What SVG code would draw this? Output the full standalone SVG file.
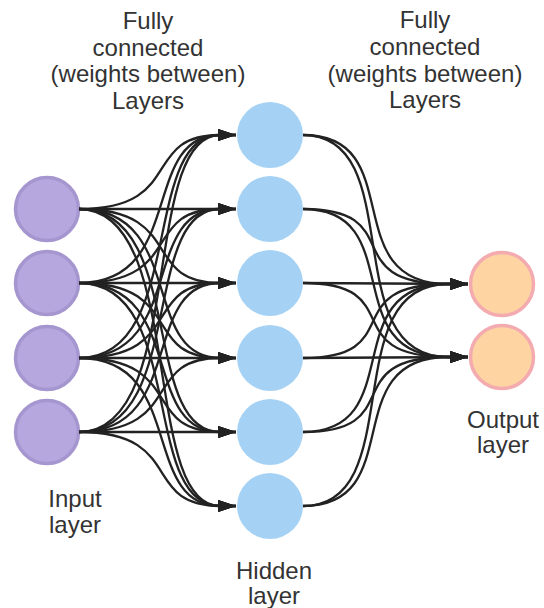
<svg xmlns="http://www.w3.org/2000/svg" width="544" height="608" viewBox="0 0 544 608">
<defs>
<style>
.lbl{font-family:"Liberation Sans",Arial,sans-serif;font-size:24px;fill:#333;text-anchor:middle}
.inp{fill:#b6a8de;stroke:#a596cf;stroke-width:3.5}
.hid{fill:#a5d2f4}
.out{fill:#fdd4a2;stroke:#f3abb0;stroke-width:3.5}
.edge{fill:none;stroke:#222;stroke-width:2.3;marker-end:url(#arr)}
</style>
<marker id="arr" markerUnits="userSpaceOnUse" markerWidth="20" markerHeight="12" refX="18" refY="6" orient="auto">
<path d="M0,0 L18,6 L0,12 z" fill="#222"/>
</marker>
</defs>
<rect width="544" height="608" fill="#fff"/>

<g id="label-fc1">
<text class="lbl" x="148" y="29">Fully</text>
<text class="lbl" x="148" y="56">connected</text>
<text class="lbl" x="148" y="82">(weights between)</text>
<text class="lbl" x="148" y="109">Layers</text>
</g>
<g id="label-fc2">
<text class="lbl" x="425" y="28">Fully</text>
<text class="lbl" x="425" y="55">connected</text>
<text class="lbl" x="425" y="82">(weights between)</text>
<text class="lbl" x="425" y="108">Layers</text>
</g>

<g id="input-layer">
<g id="in1"><circle class="inp" cx="47" cy="209" r="31.5"/></g>
<g id="in2"><circle class="inp" cx="47" cy="283" r="31.5"/></g>
<g id="in3"><circle class="inp" cx="47" cy="358" r="31.5"/></g>
<g id="in4"><circle class="inp" cx="47" cy="432" r="31.5"/></g>
<text class="lbl" x="75" y="507">Input</text>
<text class="lbl" x="75" y="533">layer</text>
</g>

<g id="hidden-layer">
<g id="h1"><circle class="hid" cx="270" cy="135" r="33"/></g>
<g id="h2"><circle class="hid" cx="270" cy="209" r="33"/></g>
<g id="h3"><circle class="hid" cx="270" cy="283" r="33"/></g>
<g id="h4"><circle class="hid" cx="270" cy="358" r="33"/></g>
<g id="h5"><circle class="hid" cx="270" cy="432" r="33"/></g>
<g id="h6"><circle class="hid" cx="270" cy="506" r="33"/></g>
<text class="lbl" x="274" y="579">Hidden</text>
<text class="lbl" x="274" y="604">layer</text>
</g>

<g id="output-layer">
<g id="o1"><circle class="out" cx="502" cy="284" r="31.5"/></g>
<g id="o2"><circle class="out" cx="502" cy="357" r="31.5"/></g>
<text class="lbl" x="503" y="428">Output</text>
<text class="lbl" x="503" y="453">layer</text>
</g>

<g id="connectors">
<!-- input 1 (209) -->
<path class="edge" d="M79,209 C186,209 140,135 220,135 L236,135"/>
<path class="edge" d="M79,209 L236,209"/>
<path class="edge" d="M79,209 C186,209 140,283 220,283 L236,283"/>
<path class="edge" d="M79,209 C186,209 140,358 220,358 L236,358"/>
<path class="edge" d="M79,209 C186,209 140,432 220,432 L236,432"/>
<path class="edge" d="M79,209 C186,209 140,506 220,506 L236,506"/>
<!-- input 2 (283) -->
<path class="edge" d="M79,283 C186,283 140,135 220,135 L236,135"/>
<path class="edge" d="M79,283 C186,283 140,209 220,209 L236,209"/>
<path class="edge" d="M79,283 L236,283"/>
<path class="edge" d="M79,283 C186,283 140,358 220,358 L236,358"/>
<path class="edge" d="M79,283 C186,283 140,432 220,432 L236,432"/>
<path class="edge" d="M79,283 C186,283 140,506 220,506 L236,506"/>
<!-- input 3 (358) -->
<path class="edge" d="M79,358 C186,358 140,135 220,135 L236,135"/>
<path class="edge" d="M79,358 C186,358 140,209 220,209 L236,209"/>
<path class="edge" d="M79,358 C186,358 140,283 220,283 L236,283"/>
<path class="edge" d="M79,358 L236,358"/>
<path class="edge" d="M79,358 C186,358 140,432 220,432 L236,432"/>
<path class="edge" d="M79,358 C186,358 140,506 220,506 L236,506"/>
<!-- input 4 (432) -->
<path class="edge" d="M79,432 C186,432 140,135 220,135 L236,135"/>
<path class="edge" d="M79,432 C186,432 140,209 220,209 L236,209"/>
<path class="edge" d="M79,432 C186,432 140,283 220,283 L236,283"/>
<path class="edge" d="M79,432 C186,432 140,358 220,358 L236,358"/>
<path class="edge" d="M79,432 L236,432"/>
<path class="edge" d="M79,432 C186,432 140,506 220,506 L236,506"/>
<!-- hidden to output -->
<path class="edge" d="M303,135 C410,135 335,284 448,284 L468,284"/>
<path class="edge" d="M303,135 C410,135 335,357 448,357 L468,357"/>
<path class="edge" d="M303,209 C410,209 335,284 448,284 L468,284"/>
<path class="edge" d="M303,209 C410,209 335,357 448,357 L468,357"/>
<path class="edge" d="M303,283 L468,284"/>
<path class="edge" d="M303,283 C410,283 335,357 448,357 L468,357"/>
<path class="edge" d="M303,358 C410,358 335,284 448,284 L468,284"/>
<path class="edge" d="M303,358 L468,357"/>
<path class="edge" d="M303,432 C410,432 335,284 448,284 L468,284"/>
<path class="edge" d="M303,432 C410,432 335,357 448,357 L468,357"/>
<path class="edge" d="M303,506 C410,506 335,284 448,284 L468,284"/>
<path class="edge" d="M303,506 C410,506 335,357 448,357 L468,357"/>
</g>
</svg>
